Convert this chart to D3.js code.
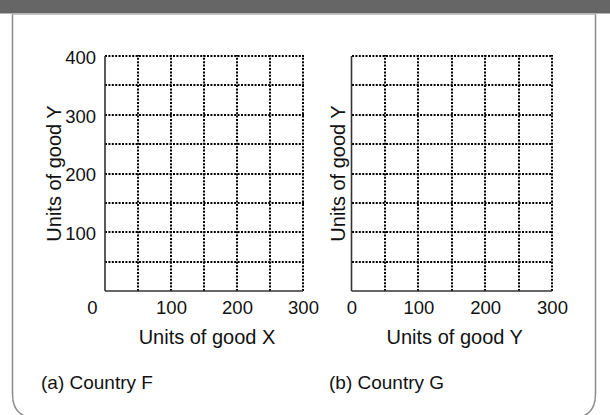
<!DOCTYPE html>
<html>
<head>
<meta charset="utf-8">
<script src="https://cdn.jsdelivr.net/npm/d3@7"></script>
<style>
  html, body { margin: 0; padding: 0; background: #fff; }
  svg { display: block; font-family: "Liberation Sans", Arial, Helvetica, sans-serif; }
</style>
</head>
<body>
<svg id="chart" width="610" height="415"></svg>
<script>
// ---- data ----
const panelLabels = ["(a) Country F", "(b) Country G"];
const xTitles = ["Units of good X", "Units of good Y"];
const yTitles = ["Units of good Y", "Units of good Y"];
const showYTickLabels = [true, false];
const xTicks = [0, 100, 200, 300];
const yTicks = [100, 200, 300, 400];
const xGrid = [50, 100, 150, 200, 250, 300];
const yGrid = [50, 100, 150, 200, 250, 300, 350, 400];
const xDomain = [0, 300];
const yDomain = [0, 400];

// ---- layout ----
const W = 610, H = 415;
const FONT = "Liberation Sans, Arial, sans-serif";
const svg = d3.select("#chart");

// header bar and frame
svg.append("rect").attr("x", 0).attr("y", 0).attr("width", W).attr("height", 13.5).attr("fill", "#666");
svg.append("path")
  .attr("d", (() => {
    const x0 = 12.5, x1 = 595.5, y0 = 13.5, y1 = 418, r = 24;
    return `M${x0},${y0} L${x0},${y1 - r} Q${x0},${y1} ${x0 + r},${y1} L${x1 - r},${y1} Q${x1},${y1} ${x1},${y1 - r} L${x1},${y0}`;
  })())
  .attr("fill", "none").attr("stroke", "#8a8a8a").attr("stroke-width", 1.5);
svg.append("line").attr("x1", 12).attr("x2", 596).attr("y1", 14).attr("y2", 14)
  .attr("stroke", "#b5b5b5").attr("stroke-width", 1.5);

const panels = [
  { xr: [105, 303], yr: [291, 56], ytx: 61, lx: 41 },
  { xr: [351.5, 552], yr: [291, 56], ytx: 345, lx: 329 }
];

panels.forEach((p, i) => {
  const x = d3.scaleLinear().domain(xDomain).range(p.xr);
  const y = d3.scaleLinear().domain(yDomain).range(p.yr);
  const g = svg.append("g");

  // dotted grid
  g.selectAll("line.hg").data(yGrid).join("line").attr("class", "hg")
    .attr("x1", Math.round(x(0))).attr("x2", Math.round(x(300)) + 1)
    .attr("y1", d => Math.round(y(d))).attr("y2", d => Math.round(y(d)))
    .attr("stroke", "#000").attr("stroke-width", 2).attr("stroke-dasharray", "2,1.4");
  g.selectAll("line.vg").data(xGrid).join("line").attr("class", "vg")
    .attr("x1", d => Math.round(x(d))).attr("x2", d => Math.round(x(d)))
    .attr("y1", Math.round(y(0))).attr("y2", Math.round(y(400)) - 1)
    .attr("stroke", "#000").attr("stroke-width", 2).attr("stroke-dasharray", "2,1.4");

  // solid axes
  g.append("line").attr("x1", x(0)).attr("x2", x(0)).attr("y1", y(0)).attr("y2", y(400))
    .attr("stroke", "#333").attr("stroke-width", 1.6);
  g.append("line").attr("x1", x(0)).attr("x2", x(300)).attr("y1", y(0)).attr("y2", y(0))
    .attr("stroke", "#333").attr("stroke-width", 1.6);

  // x tick labels
  const xa = g.append("g").attr("transform", `translate(0,${y(0)})`)
    .call(d3.axisBottom(x).tickValues(xTicks).tickSize(0).tickPadding(10).tickFormat(d3.format("d")));
  xa.attr("font-size", null).attr("font-family", null);
  xa.select(".domain").remove();
  xa.selectAll("text").style("font-size", "18.5px").attr("fill", "#111").style("font-family", FONT);
  if (i === 0) {
    xa.selectAll(".tick").filter(d => d === 0).select("text").attr("dx", -13);
  }

  // y tick labels
  if (showYTickLabels[i]) {
    const ya = g.append("g").attr("transform", `translate(${x(0)},0)`)
      .call(d3.axisLeft(y).tickValues(yTicks).tickSize(0).tickPadding(9).tickFormat(d3.format("d")));
    ya.attr("font-size", null).attr("font-family", null);
    ya.select(".domain").remove();
    ya.selectAll("text").style("font-size", "18.5px").attr("fill", "#111").attr("dy", "0.4em").style("font-family", FONT);
  }

  // titles
  const cx = (p.xr[0] + p.xr[1]) / 2;
  g.append("text").attr("x", cx + 3).attr("y", 344).attr("text-anchor", "middle")
    .style("font-size", "20px").style("font-family", FONT).attr("fill", "#111").text(xTitles[i]);
  g.append("text").attr("transform", `translate(${p.ytx},${(p.yr[0] + p.yr[1]) / 2}) rotate(-90)`)
    .attr("text-anchor", "middle").style("font-size", "20px").style("font-family", FONT)
    .attr("fill", "#111").text(yTitles[i]);

  g.append("text").attr("x", p.lx).attr("y", 389)
    .style("font-size", "19px").style("font-family", FONT).attr("fill", "#111").text(panelLabels[i]);
});
</script>
</body>
</html>
